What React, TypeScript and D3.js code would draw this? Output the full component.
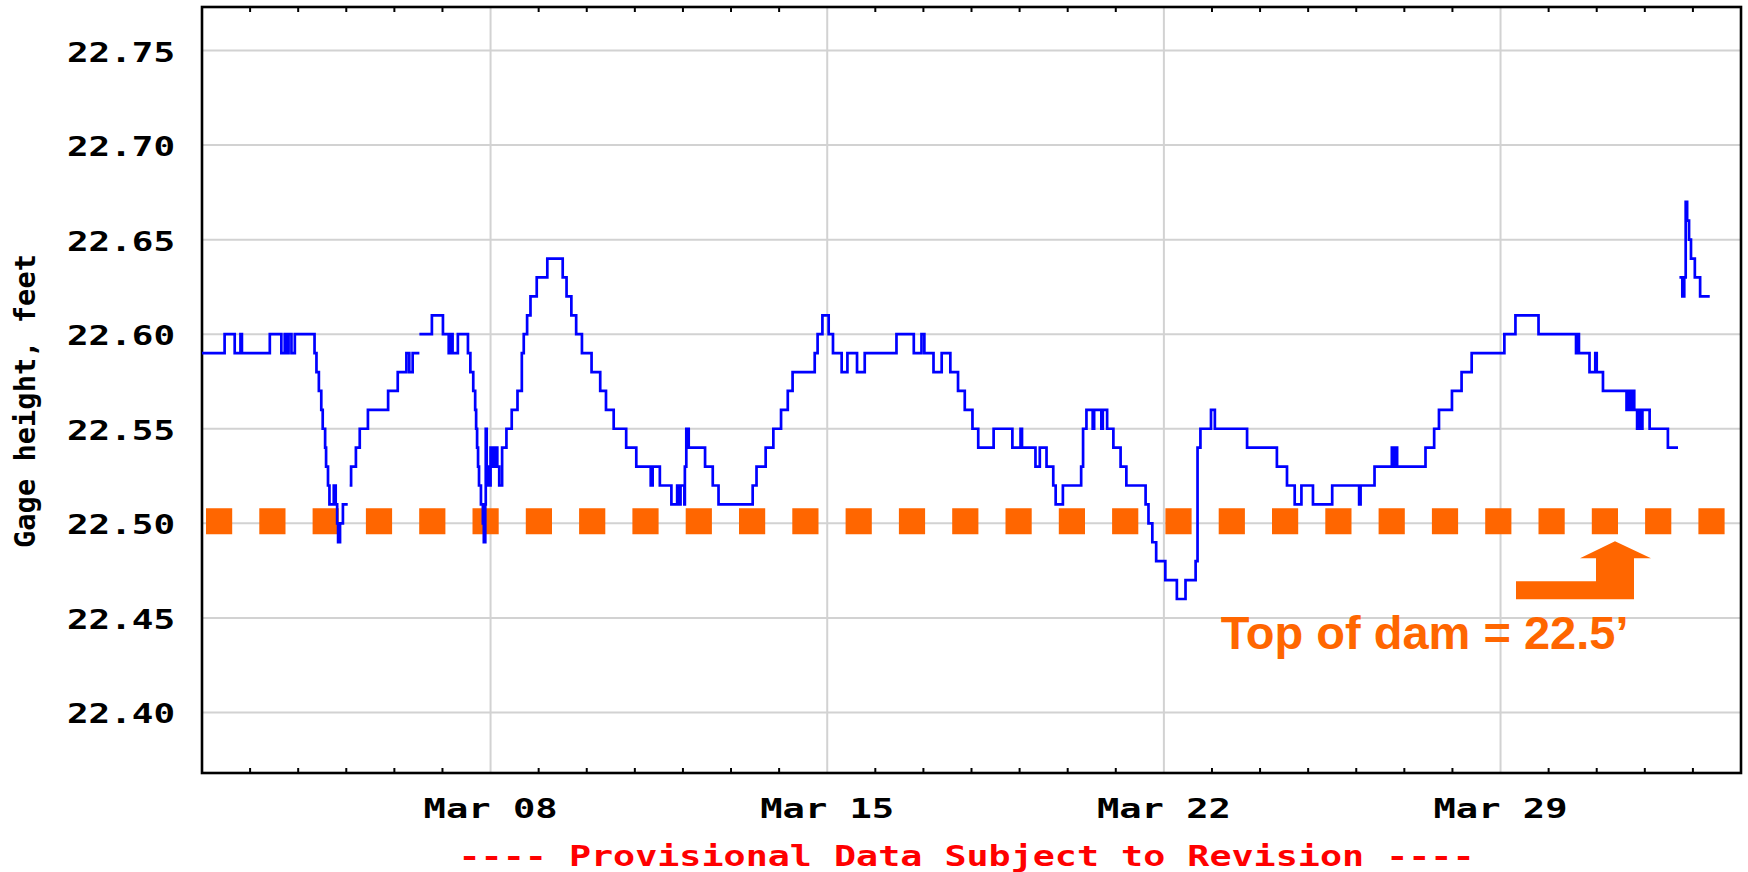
import React, { useEffect, useRef } from "react";
import * as d3 from "d3";

// Days are counted from Mar 02 00:00 (UTC); values are gage height in feet
const START = Date.UTC(2020, 2, 2);
const DAY_MS = 864e5;
const SPAN_DAYS = 32;

type Pt = [number, number];

const gageSeg1: Pt[] = [
  [0, 22.59], [0.47, 22.6], [0.68, 22.59], [0.8, 22.6], [0.83, 22.59], [1.41, 22.6],
  [1.65, 22.59], [1.72, 22.6], [1.75, 22.59], [1.8, 22.6], [1.86, 22.59], [1.93, 22.6],
  [2.34, 22.59], [2.38, 22.58], [2.43, 22.57], [2.48, 22.56], [2.51, 22.55], [2.56, 22.54],
  [2.58, 22.53], [2.62, 22.52], [2.65, 22.51], [2.74, 22.52], [2.78, 22.51], [2.81, 22.5],
  [2.83, 22.49], [2.87, 22.5], [2.93, 22.51], [3.03, 22.51],
];

const gageSeg2: Pt[] = [
  [3.07, 22.52], [3.1, 22.53], [3.2, 22.54], [3.28, 22.55], [3.45, 22.56], [3.87, 22.57],
  [4.07, 22.58], [4.25, 22.59], [4.31, 22.58], [4.38, 22.59], [4.52, 22.59],
];

const gageSeg3: Pt[] = [
  [4.52, 22.6], [4.78, 22.61], [5.01, 22.6], [5.13, 22.59], [5.18, 22.6], [5.21, 22.59],
  [5.32, 22.6], [5.53, 22.59], [5.58, 22.58], [5.64, 22.57], [5.68, 22.56], [5.7, 22.55],
  [5.72, 22.54], [5.74, 22.53], [5.76, 22.52], [5.8, 22.51], [5.84, 22.5], [5.86, 22.49],
  [5.89, 22.51], [5.9, 22.55], [5.92, 22.52], [5.95, 22.53], [5.98, 22.52], [6.0, 22.54],
  [6.05, 22.53], [6.1, 22.54], [6.14, 22.53], [6.18, 22.52], [6.24, 22.54], [6.33, 22.55],
  [6.44, 22.56], [6.56, 22.57], [6.65, 22.59], [6.69, 22.6], [6.76, 22.61], [6.83, 22.62],
  [6.96, 22.63], [7.18, 22.64], [7.5, 22.63], [7.58, 22.62], [7.68, 22.61], [7.78, 22.6],
  [7.9, 22.59], [8.1, 22.58], [8.28, 22.57], [8.4, 22.56], [8.56, 22.55], [8.82, 22.54],
  [9.03, 22.53], [9.33, 22.52], [9.37, 22.53], [9.52, 22.52], [9.76, 22.51], [9.88, 22.52],
  [9.92, 22.51], [9.95, 22.52], [10.03, 22.51], [10.04, 22.53], [10.07, 22.55], [10.12, 22.54],
  [10.46, 22.53], [10.62, 22.52], [10.74, 22.51], [11.45, 22.52], [11.53, 22.53], [11.72, 22.54],
  [11.88, 22.55], [12.04, 22.56], [12.18, 22.57], [12.28, 22.58], [12.74, 22.59], [12.8, 22.6],
  [12.9, 22.61], [13.03, 22.6], [13.12, 22.59], [13.3, 22.58], [13.42, 22.59], [13.62, 22.58],
  [13.78, 22.59], [14.44, 22.6], [14.8, 22.59], [14.96, 22.6], [15.02, 22.59], [15.21, 22.58],
  [15.38, 22.59], [15.56, 22.58], [15.72, 22.57], [15.86, 22.56], [16.02, 22.55], [16.14, 22.54],
  [16.46, 22.55], [16.85, 22.54], [17.02, 22.55], [17.05, 22.54], [17.33, 22.53], [17.42, 22.54],
  [17.56, 22.53], [17.7, 22.52], [17.75, 22.51], [17.9, 22.52], [18.28, 22.53], [18.32, 22.55],
  [18.39, 22.56], [18.52, 22.55], [18.55, 22.56], [18.7, 22.55], [18.73, 22.56], [18.82, 22.55],
  [18.95, 22.54], [19.1, 22.53], [19.22, 22.52], [19.62, 22.51], [19.68, 22.5], [19.76, 22.49],
  [19.84, 22.48], [20.03, 22.47], [20.27, 22.46], [20.45, 22.47], [20.66, 22.48], [20.7, 22.54],
  [20.76, 22.55], [20.98, 22.56], [21.06, 22.55], [21.73, 22.54], [22.35, 22.53], [22.56, 22.52],
  [22.72, 22.51], [22.86, 22.52], [23.1, 22.51], [23.5, 22.52], [24.06, 22.51], [24.09, 22.52],
  [24.38, 22.53], [24.74, 22.54], [24.78, 22.53], [24.8, 22.54], [24.85, 22.53], [25.44, 22.54],
  [25.62, 22.55], [25.72, 22.56], [25.99, 22.57], [26.19, 22.58], [26.4, 22.59], [27.08, 22.6],
  [27.31, 22.61], [27.79, 22.6], [28.57, 22.59], [28.6, 22.6], [28.63, 22.59], [28.85, 22.58],
  [28.97, 22.59], [29.0, 22.58], [29.13, 22.57], [29.62, 22.56], [29.66, 22.57], [29.7, 22.56],
  [29.74, 22.57], [29.78, 22.56], [29.84, 22.55], [29.88, 22.56], [29.9, 22.55], [29.95, 22.56],
  [30.1, 22.55], [30.48, 22.54], [30.69, 22.54],
];

const gageSeg4: Pt[] = [
  [30.72, 22.63], [30.78, 22.62], [30.82, 22.63], [30.85, 22.67], [30.88, 22.66], [30.92, 22.65],
  [30.96, 22.64], [31.04, 22.63], [31.15, 22.62], [31.35, 22.62],
];

const segments = [gageSeg1, gageSeg2, gageSeg3, gageSeg4];

const yTicks = [22.4, 22.45, 22.5, 22.55, 22.6, 22.65, 22.7, 22.75];
const weekDays = [6, 13, 20, 27]; // Mar 08, 15, 22, 29
const damLevel = 22.5;
const arrowDay = 29.38;
const noteDay = 21.18;
const noteText = "Top of dam = 22.5\u2019";
const footerText = "---- Provisional Data Subject to Revision ----";
const yTitle = "Gage height, feet";

const W = 1748;
const H = 872;
const MONO = "'DejaVu Sans Mono', monospace";
const ORANGE = "#ff6600";

const toDate = (d: number) => new Date(START + d * DAY_MS);

const App: React.FC = () => {
  const ref = useRef<SVGSVGElement | null>(null);

  useEffect(() => {
    if (!ref.current) return;
    const svg = d3.select(ref.current);
    svg.selectAll("*").remove();

    const margin = { top: 7, right: 7, bottom: 99, left: 202 };
    const x = d3
      .scaleUtc()
      .domain([toDate(0), toDate(SPAN_DAYS)])
      .range([margin.left, W - margin.right]);
    const y = d3
      .scaleLinear()
      .domain([22.368, 22.773])
      .range([H - margin.bottom, margin.top]);

    const [x0, x1] = x.range();
    const [yb, yt] = y.range();

    svg.append("rect").attr("width", W).attr("height", H).attr("fill", "white");

    // grid
    const grid = svg.append("g").attr("stroke", "#d2d2d2").attr("stroke-width", 2);
    grid
      .selectAll("line.h")
      .data(yTicks)
      .enter()
      .append("line")
      .attr("x1", x0)
      .attr("x2", x1)
      .attr("y1", d => y(d))
      .attr("y2", d => y(d));
    grid
      .selectAll("line.v")
      .data(weekDays)
      .enter()
      .append("line")
      .attr("x1", d => x(toDate(d)))
      .attr("x2", d => x(toDate(d)))
      .attr("y1", yt)
      .attr("y2", yb);

    // daily minor ticks, top and bottom
    const minor = d3.range(1, SPAN_DAYS).filter(d => !weekDays.includes(d));
    const ticks = svg.append("g").attr("stroke", "black").attr("stroke-width", 2);
    minor.forEach(d => {
      const xx = x(toDate(d));
      ticks.append("line").attr("x1", xx).attr("x2", xx).attr("y1", yt).attr("y2", yt + 5);
      ticks.append("line").attr("x1", xx).attr("x2", xx).attr("y1", yb).attr("y2", yb - 5);
    });

    // frame
    svg
      .append("rect")
      .attr("x", x0)
      .attr("y", yt)
      .attr("width", x1 - x0)
      .attr("height", yb - yt)
      .attr("fill", "none")
      .attr("stroke", "black")
      .attr("stroke-width", 2.6);

    // y labels
    svg
      .append("g")
      .selectAll("text")
      .data(yTicks)
      .enter()
      .append("text")
      .attr("x", 175)
      .attr("y", d => y(d) + 11)
      .attr("text-anchor", "end")
      .attr("font-family", MONO)
      .attr("font-weight", "bold")
      .attr("font-size", 27)
      .attr("textLength", 108)
      .attr("lengthAdjust", "spacingAndGlyphs")
      .text(d => d.toFixed(2));

    // x labels
    const fmt = d3.utcFormat("%b %d");
    svg
      .append("g")
      .selectAll("text")
      .data(weekDays)
      .enter()
      .append("text")
      .attr("x", d => x(toDate(d)))
      .attr("y", 818)
      .attr("text-anchor", "middle")
      .attr("font-family", MONO)
      .attr("font-weight", "bold")
      .attr("font-size", 27)
      .attr("textLength", 134)
      .attr("lengthAdjust", "spacingAndGlyphs")
      .text(d => fmt(toDate(d)));

    // y title
    svg
      .append("text")
      .attr("transform", `translate(35,${(yt + yb) / 2 + 11}) rotate(-90)`)
      .attr("text-anchor", "middle")
      .attr("font-family", MONO)
      .attr("font-weight", "bold")
      .attr("font-size", 29)
      .attr("textLength", 294)
      .attr("lengthAdjust", "spacingAndGlyphs")
      .text(yTitle);

    // footer
    svg
      .append("text")
      .attr("x", (x0 + x1) / 2 - 5)
      .attr("y", 866)
      .attr("text-anchor", "middle")
      .attr("fill", "#ff0000")
      .attr("font-family", MONO)
      .attr("font-weight", "bold")
      .attr("font-size", 28)
      .attr("textLength", 1016)
      .attr("lengthAdjust", "spacingAndGlyphs")
      .text(footerText);

    // top of dam dotted line
    const dy = y(damLevel);
    svg
      .append("line")
      .attr("x1", x0 + 4)
      .attr("x2", x1 - 16)
      .attr("y1", dy - 2)
      .attr("y2", dy - 2)
      .attr("stroke", ORANGE)
      .attr("stroke-width", 26)
      .attr("stroke-dasharray", "26.2 27.1");

    // gage height line
    const line = d3
      .line<Pt>()
      .x(d => x(toDate(d[0])))
      .y(d => y(d[1]))
      .curve(d3.curveStepAfter);
    svg
      .append("g")
      .selectAll("path")
      .data(segments)
      .enter()
      .append("path")
      .attr("d", d => line(d))
      .attr("fill", "none")
      .attr("stroke", "#0000ff")
      .attr("stroke-width", 2.7);

    // arrow pointing at the dam line
    const ax = x(toDate(arrowDay));
    const ay = dy + 18;
    const arrow: Pt[] = [
      [0, 0], [36, 17], [19, 17], [19, 58], [-99, 58], [-99, 40], [-19, 40], [-19, 17], [-35, 17],
    ];
    svg
      .append("polygon")
      .attr("points", arrow.map(p => `${ax + p[0]},${ay + p[1]}`).join(" "))
      .attr("fill", ORANGE);

    svg
      .append("text")
      .attr("x", x(toDate(noteDay)))
      .attr("y", dy + 126)
      .attr("fill", ORANGE)
      .attr("font-family", "'Liberation Sans', Arial, sans-serif")
      .attr("font-weight", "bold")
      .attr("font-size", 47)
      .text(noteText);
  }, []);

  return (
    <svg
      ref={ref}
      width={W}
      height={H}
      style={{ position: "absolute", left: 0, top: 0, display: "block" }}
    />
  );
};

export default App;
